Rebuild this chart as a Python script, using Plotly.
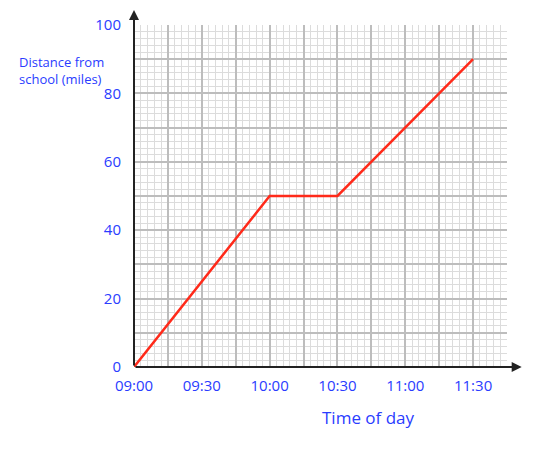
import plotly.graph_objects as go

# Data
times = ["09:00", "10:00", "10:30", "11:30"]
distance = [0, 50, 50, 90]
x_tick_labels = ["09:00", "09:30", "10:00", "10:30", "11:00", "11:30"]
y_tick_labels = ["0", "20", "40", "60", "80", "100"]


def to_min(t):
    h, m = t.split(":")
    return (int(h) - 9) * 60 + int(m)


xs = [to_min(t) for t in times]

blue = "#2a3cff"
font_family = "Open Sans, sans-serif"

# major ticks every 15 min; labels every 30
x_tickvals = list(range(0, 166, 15))
lab_map = {to_min(t): t for t in x_tick_labels}
x_ticktext = [lab_map.get(v, "") for v in x_tickvals]

y_tickvals = list(range(0, 101, 10))
y_lab = {int(s): s for s in y_tick_labels}
y_ticktext = [y_lab.get(v, "") for v in y_tickvals]

fig = go.Figure()
fig.add_trace(go.Scatter(
    x=xs, y=distance, mode="lines",
    line=dict(color="#ff2a1a", width=2.5),
    hoverinfo="skip", showlegend=False, cliponaxis=False,
))

fig.update_xaxes(
    range=[0, 165], tickmode="array", tickvals=x_tickvals, ticktext=x_ticktext,
    showgrid=True, gridcolor="#bdbdbd", gridwidth=1.5,
    minor=dict(dtick=3, showgrid=True, gridcolor="#dcdcdc", gridwidth=1),
    zeroline=False, showline=False, ticks="", ticklabelstandoff=8,
    tickfont=dict(family=font_family, size=15, color=blue),
    fixedrange=True, automargin=False,
)
fig.update_yaxes(
    range=[0, 100], tickmode="array", tickvals=y_tickvals, ticktext=y_ticktext,
    showgrid=True, gridcolor="#bdbdbd", gridwidth=1.5,
    minor=dict(dtick=2, showgrid=True, gridcolor="#dcdcdc", gridwidth=1),
    zeroline=False, showline=False, ticks="", ticklabelstandoff=12,
    tickfont=dict(family=font_family, size=15, color=blue),
    fixedrange=True, automargin=False,
)

# axis arrows
fig.add_annotation(x=0, y=104.4, ax=0, ay=0, xref="x", yref="y", axref="x", ayref="y",
                   showarrow=True, arrowhead=2, arrowsize=1, arrowwidth=2,
                   arrowcolor="#222222", text="")
fig.add_annotation(x=171.5, y=0, ax=0, ay=0, xref="x", yref="y", axref="x", ayref="y",
                   showarrow=True, arrowhead=2, arrowsize=1, arrowwidth=2,
                   arrowcolor="#222222", text="")

# titles
fig.add_annotation(text="Time of day", x=(368 - 134) / 373, y=(367 - 417) / 342,
                   xref="paper", yref="paper", showarrow=False,
                   xanchor="center", yanchor="middle",
                   font=dict(family=font_family, size=17, color=blue))
fig.add_annotation(text="Distance from<br>school (miles)", x=(17 - 134) / 373,
                   y=(367 - 51) / 342, xref="paper", yref="paper", showarrow=False,
                   xanchor="left", yanchor="top", align="left",
                   font=dict(family=font_family, size=13, color=blue))

# page body adds an 8px offset; margins compensate for it
fig.update_layout(
    width=546, height=449,
    margin=dict(l=126, r=47, t=17, b=90),
    paper_bgcolor="white", plot_bgcolor="white",
    showlegend=False,
)

fig.write_html("out.html")
